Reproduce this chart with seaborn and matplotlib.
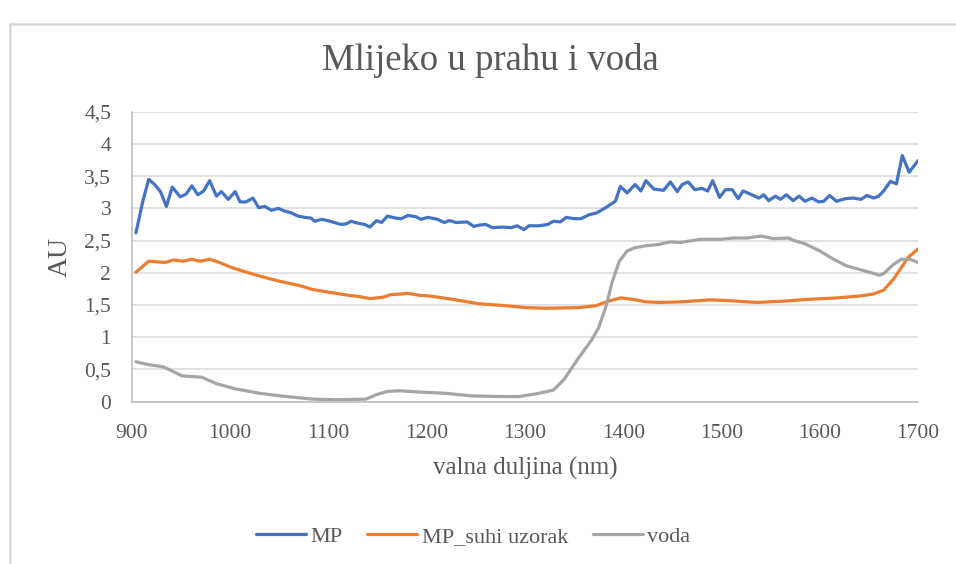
import matplotlib
matplotlib.use("Agg")
import matplotlib.pyplot as plt
import seaborn as sns
import pandas as pd
from matplotlib.lines import Line2D
from matplotlib.ticker import FuncFormatter, MultipleLocator

# Values
wl_mp = [904, 911, 917, 923, 929, 935, 941, 949, 955, 961, 967, 973, 979, 986, 991, 998,
         1005, 1010, 1016, 1023, 1029, 1035, 1042, 1049, 1055, 1062, 1069, 1076, 1082, 1086,
         1093, 1099, 1106, 1113, 1118, 1123, 1130, 1137, 1142, 1149, 1154, 1160, 1168, 1174,
         1181, 1189, 1194, 1201, 1211, 1218, 1223, 1230, 1241, 1248, 1253, 1260, 1267, 1277,
         1286, 1292, 1299, 1304, 1314, 1323, 1329, 1336, 1342, 1350, 1357, 1365, 1373, 1382,
         1392, 1397, 1404, 1412, 1418, 1423, 1431, 1441, 1448, 1455, 1460, 1466, 1473, 1480,
         1486, 1491, 1498, 1504, 1511, 1517, 1522, 1531, 1538, 1543, 1548, 1555, 1560, 1566,
         1573, 1579, 1585, 1592, 1599, 1604, 1610, 1617, 1626, 1634, 1642, 1648, 1655, 1660,
         1665, 1672, 1678, 1684, 1691, 1700]
mp = [2.62, 3.11, 3.45, 3.37, 3.26, 3.03, 3.33, 3.18, 3.22, 3.35, 3.21, 3.27, 3.43, 3.19, 3.26, 3.14,
      3.26, 3.10, 3.10, 3.16, 3.01, 3.03, 2.97, 3.00, 2.96, 2.93, 2.88, 2.86, 2.85, 2.80,
      2.83, 2.81, 2.78, 2.75, 2.76, 2.80, 2.77, 2.75, 2.71, 2.81, 2.78, 2.88, 2.85, 2.84,
      2.89, 2.87, 2.83, 2.86, 2.83, 2.78, 2.81, 2.78, 2.79, 2.72, 2.74, 2.75, 2.70, 2.71,
      2.70, 2.73, 2.67, 2.73, 2.73, 2.75, 2.80, 2.79, 2.86, 2.84, 2.84, 2.90, 2.93, 3.01,
      3.11, 3.34, 3.24, 3.37, 3.27, 3.43, 3.30, 3.28, 3.41, 3.26, 3.37, 3.41, 3.29, 3.31,
      3.27, 3.43, 3.17, 3.29, 3.29, 3.15, 3.27, 3.21, 3.16, 3.21, 3.12, 3.19, 3.14, 3.21,
      3.12, 3.19, 3.11, 3.16, 3.10, 3.11, 3.20, 3.11, 3.15, 3.16, 3.14, 3.20, 3.16, 3.19,
      3.27, 3.42, 3.38, 3.82, 3.56, 3.74]

wl_suhi = [904, 917, 934, 942, 952, 961, 969, 979, 989, 1000, 1010, 1023, 1037, 1050, 1071,
           1084, 1104, 1121, 1132, 1142, 1155, 1163, 1181, 1193, 1203, 1226, 1253, 1280, 1301,
           1321, 1355, 1372, 1385, 1397, 1409, 1423, 1437, 1460, 1488, 1505, 1536, 1563, 1590,
           1617, 1641, 1654, 1665, 1675, 1682, 1690, 1700]
suhi = [2.01, 2.18, 2.16, 2.20, 2.18, 2.21, 2.18, 2.21, 2.16, 2.09, 2.04, 1.98, 1.92, 1.87, 1.80,
        1.74, 1.69, 1.65, 1.63, 1.60, 1.62, 1.66, 1.68, 1.65, 1.64, 1.59, 1.52, 1.49, 1.46,
        1.45, 1.46, 1.49, 1.56, 1.61, 1.59, 1.55, 1.54, 1.55, 1.58, 1.57, 1.54, 1.56, 1.59,
        1.61, 1.64, 1.67, 1.73, 1.90, 2.06, 2.24, 2.37]

wl_voda = [904, 915, 932, 939, 951, 971, 986, 1005, 1030, 1057, 1084, 1108, 1138, 1149, 1160,
           1172, 1192, 1219, 1246, 1274, 1294, 1314, 1329, 1340, 1355, 1367, 1375, 1382, 1389,
           1396, 1404, 1412, 1423, 1436, 1448, 1458, 1478, 1499, 1512, 1526, 1540, 1553, 1568,
           1576, 1585, 1600, 1614, 1627, 1641, 1655, 1661, 1666, 1675, 1683, 1692, 1700]
voda = [0.62, 0.58, 0.54, 0.49, 0.40, 0.38, 0.28, 0.20, 0.13, 0.08, 0.04, 0.03, 0.04, 0.11, 0.16,
        0.17, 0.15, 0.13, 0.09, 0.08, 0.08, 0.13, 0.18, 0.35, 0.69, 0.94, 1.15, 1.46, 1.87,
        2.18, 2.34, 2.39, 2.42, 2.44, 2.48, 2.47, 2.52, 2.52, 2.54, 2.54, 2.57, 2.53, 2.54,
        2.49, 2.45, 2.34, 2.21, 2.11, 2.05, 1.99, 1.96, 2.00, 2.13, 2.21, 2.21, 2.16]

series = [("MP", wl_mp, mp, "#4472C4"),
          ("MP_suhi uzorak", wl_suhi, suhi, "#ED7D31"),
          ("voda", wl_voda, voda, "#A5A5A5")]

sns.set_theme(style="white")
plt.rcParams["font.family"] = ["Liberation Serif", "DejaVu Serif"]
text_col = "#595959"

fig = plt.figure(figsize=(9.56, 5.64), dpi=100)
ax = fig.add_axes([132 / 956, 1 - 401.7 / 564, 786 / 956, 290 / 564])

for name, xs, ys, col in series:
    df = pd.DataFrame({"x": xs, "y": ys})
    sns.lineplot(data=df, x="x", y="y", ax=ax, color=col, linewidth=2.3,
                 label=name, sort=False, estimator=None)

ax.set_xlim(900, 1700)
ax.set_ylim(0, 4.5)
ax.xaxis.set_major_locator(MultipleLocator(100))
ax.yaxis.set_major_locator(MultipleLocator(0.5))
ax.yaxis.set_major_formatter(FuncFormatter(lambda v, p: f"{v:g}".replace(".", ",")))
ax.grid(axis="y", color="#D9D9D9", linewidth=1.1)
ax.set_axisbelow(True)

for side in ["top", "right"]:
    ax.spines[side].set_visible(False)
for side in ["left", "bottom"]:
    ax.spines[side].set_color("#BFBFBF")
    ax.spines[side].set_linewidth(1.2)

ax.tick_params(axis="both", length=0, labelsize=15.5, labelcolor=text_col)
ax.tick_params(axis="y", pad=15)
ax.tick_params(axis="x", pad=16)
ax.set_xlabel("valna duljina (nm)", fontsize=18, color=text_col, labelpad=10)
ax.set_ylabel("AU", fontsize=20, color=text_col, labelpad=8)

ax.get_legend().remove()
handles, labels = ax.get_legend_handles_labels()
fig.legend(handles, labels, loc="center", bbox_to_anchor=(0.495, 0.049), ncol=3,
           frameon=False, fontsize=16, labelcolor=text_col, handlelength=2.25,
           handletextpad=0.2, columnspacing=1.1)

fig.text(0.513, 1 - 60 / 564, "Mlijeko u prahu i voda", ha="center", va="center",
         fontsize=26.5, color=text_col)

# chart area border: only the top and left edges are visible (picture is cropped)
top_y = 1 - 24 / 564
left_x = 10 / 956
fig.lines.append(Line2D([left_x, 1], [top_y, top_y], transform=fig.transFigure,
                        color="#D9D9D9", linewidth=1.8))
fig.lines.append(Line2D([left_x, left_x], [0, top_y], transform=fig.transFigure,
                        color="#D9D9D9", linewidth=1.8))

fig.savefig("out.png", dpi=100)
